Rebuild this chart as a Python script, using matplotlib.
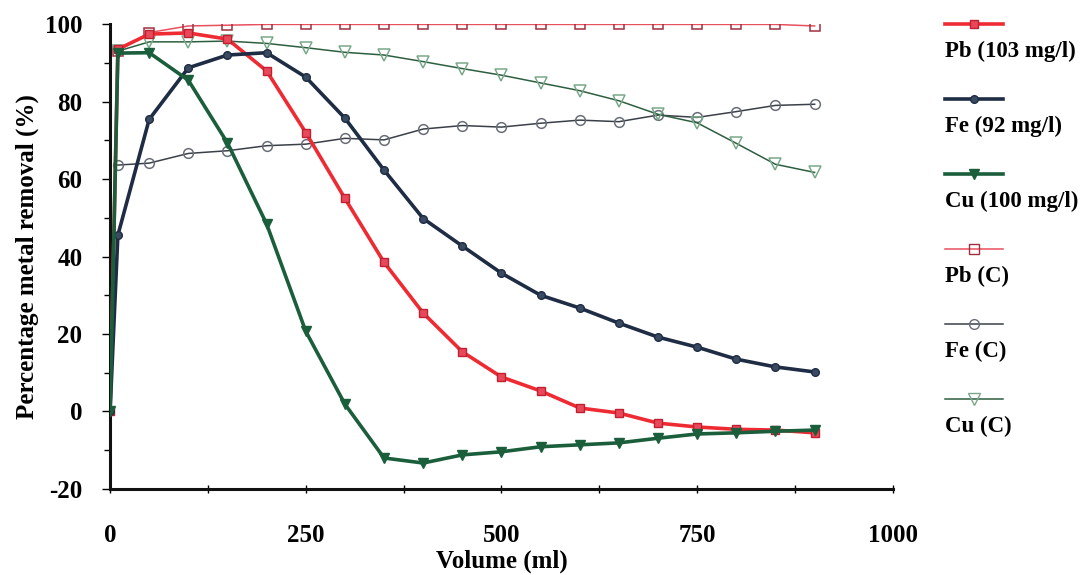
import matplotlib
matplotlib.use("Agg")
import matplotlib.pyplot as plt
from matplotlib.lines import Line2D
from matplotlib.ticker import MultipleLocator

plt.rcParams['font.family'] = ['Liberation Serif', 'DejaVu Serif']
plt.rcParams['font.weight'] = 'bold'
plt.rcParams['axes.unicode_minus'] = False

# Volume (ml)
vol = [0, 10, 50, 100, 150, 200, 250, 300, 350, 400, 450, 500,
       550, 600, 650, 700, 750, 800, 850, 900]
vol_c = vol[1:]

# Percentage metal removal (%)
pb = [0, 93.5, 97.4, 97.7, 96.1, 87.9, 72, 55, 38.5, 25.4, 15.4, 8.9,
      5.3, 0.9, -0.4, -3.0, -4.0, -4.6, -4.8, -5.5]
fe = [0, 45.5, 75.4, 88.7, 92, 92.6, 86.3, 75.7, 62.3, 49.8, 42.7, 35.7,
      30, 26.7, 22.8, 19.2, 16.6, 13.5, 11.5, 10.2]
cu = [0, 92.5, 92.6, 85.5, 69.3, 48.4, 20.7, 1.9, -12, -13.3, -11.2, -10.4,
      -9.1, -8.6, -8.1, -6.9, -5.8, -5.5, -5.1, -4.8]

# control runs
pb_c = [93, 97.8, 99.5, 99.7, 99.9, 99.9, 99.9, 99.9, 99.9, 99.9, 99.9,
        99.9, 99.9, 99.9, 99.9, 99.9, 99.9, 99.9, 99.5]
fe_c = [63.6, 64.1, 66.6, 67.3, 68.6, 69, 70.5, 70.1, 72.9, 73.8, 73.4,
        74.4, 75.2, 74.8, 76.5, 75.9, 77.4, 79, 79.3]
cu_c = [93, 95.4, 95.4, 95.6, 95, 93.9, 92.7, 92, 90.3, 88.5, 86.8,
        84.8, 82.8, 80.2, 76.7, 74.5, 69.2, 63.8, 61.7]

labels = ['Pb (103 mg/l)', 'Fe (92 mg/l)', 'Cu (100 mg/l)',
          'Pb (C)', 'Fe (C)', 'Cu (C)']

fig = plt.figure(figsize=(10.81, 5.75), dpi=100)
ax = fig.add_axes([0.1018, 0.1496, 0.7242, 0.8086])

styles = [
    dict(color='#ee2a33', lw=2.6, marker='s', ms=5.5, mfc='#e8485a', mec='#c02030'),
    dict(color='#1e2c44', lw=2.6, marker='o', ms=5.5, mfc='#3a4a60', mec='#1e2c44'),
    dict(color='#1b5e3b', lw=2.6, marker='v', ms=6.5, mfc='#1b5e3b', mec='#1b5e3b'),
    dict(color='#e8505e', lw=1.1, marker='s', ms=7, mfc='none', mec='#a03040', mew=1.1),
    dict(color='#3a3f48', lw=1.1, marker='o', ms=7, mfc='none', mec='#6a6e78', mew=1.1),
    dict(color='#2e5e40', lw=1.1, marker='v', ms=8, mfc='none', mec='#7aa88a', mew=1.1),
]

ax.plot(vol_c, pb_c, **styles[3], zorder=2)
ax.plot(vol_c, fe_c, **styles[4], zorder=2)
ax.plot(vol_c, cu_c, **styles[5], zorder=2)
ax.plot(vol, pb, **styles[0], zorder=3)
ax.plot(vol, fe, **styles[1], zorder=3)
ax.plot(vol, cu, **styles[2], zorder=3)

ax.set_xlim(0, 1000)
ax.set_ylim(-20, 100)
ax.xaxis.set_major_locator(MultipleLocator(250))
ax.xaxis.set_minor_locator(MultipleLocator(125))
ax.yaxis.set_major_locator(MultipleLocator(20))
ax.yaxis.set_minor_locator(MultipleLocator(10))

for s in ['top', 'right']:
    ax.spines[s].set_visible(False)
for s in ['left', 'bottom']:
    ax.spines[s].set_linewidth(2.2)
    ax.spines[s].set_color('#111111')

ax.tick_params(axis='y', which='major', direction='out', length=6, width=1, pad=14, labelsize=18)
ax.tick_params(axis='y', which='minor', direction='out', length=4, width=1)
ax.tick_params(axis='x', which='major', direction='inout', length=6, width=1, pad=22, labelsize=18)
ax.tick_params(axis='x', which='minor', direction='inout', length=6, width=1)

ax.set_xlabel('Volume (ml)', fontsize=18, fontweight='bold', labelpad=2)
ax.set_ylabel('Percentage metal removal (%)', fontsize=18, fontweight='bold', labelpad=4)

# legend: sample line above each label
W, H = 1081, 575
for i, lab in enumerate(labels):
    ly = 24 + 75 * i
    st = styles[i]
    fig.add_artist(Line2D([945 / W, 1003 / W], [1 - ly / H, 1 - ly / H],
                          color=st['color'], lw=st['lw'], transform=fig.transFigure))
    fig.add_artist(Line2D([974 / W], [1 - ly / H], linestyle='none', marker=st['marker'],
                          ms=st['ms'], mfc=st['mfc'], mec=st['mec'],
                          transform=fig.transFigure))
    fig.text(945 / W, 1 - (ly + 27) / H, lab, fontsize=16.5, fontweight='bold',
             va='center', ha='left')

fig.savefig('out.png', dpi=100, facecolor='white')
